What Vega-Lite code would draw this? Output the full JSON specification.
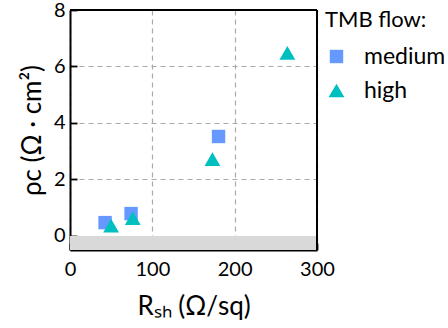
{
  "$schema": "https://vega.github.io/schema/vega-lite/v6.json",
  "width": 247,
  "height": 240,
  "autosize": {"type": "none"},
  "padding": {"left": 70, "top": 10, "right": 131, "bottom": 78},
  "background": "white",
  "config": {
    "view": {"stroke": null},
    "font": "Lato",
    "axis": {"labelFont": "Lato", "titleFont": "Lato", "labelColor": "black", "titleColor": "black", "titleFontWeight": "normal", "labelFlush": false}
  },
  "data": {"values": [
    {"Rsh": 42.6, "rho": 0.47, "flow": "medium"},
    {"Rsh": 74.2, "rho": 0.79, "flow": "medium"},
    {"Rsh": 180.4, "rho": 3.52, "flow": "medium"},
    {"Rsh": 49.9, "rho": 0.36, "flow": "high"},
    {"Rsh": 76.2, "rho": 0.63, "flow": "high"},
    {"Rsh": 173, "rho": 2.72, "flow": "high"},
    {"Rsh": 264, "rho": 6.48, "flow": "high"}
  ]},
  "layer": [
    {
      "mark": {"type": "rect", "color": "#d9d9d9"},
      "encoding": {
        "x": {"datum": 0, "type": "quantitative", "scale": {"domain": [0, 300]}, "axis": null},
        "x2": {"datum": 300},
        "y": {"datum": -0.5, "type": "quantitative", "scale": {"domain": [-0.5, 8]}, "axis": null},
        "y2": {"datum": 0}
      }
    },
    {
      "mark": {"type": "point", "filled": true, "opacity": 1},
      "encoding": {
        "x": {"field": "Rsh", "type": "quantitative", "scale": {"domain": [0, 300], "nice": false},
          "axis": {"orient": "bottom", "values": [0, 100, 200, 300], "tickSize": -7, "tickColor": "#000000", "tickWidth": 1.8, "domain": true, "domainColor": "#000000", "domainWidth": 2, "labelFontSize": 20, "labelPadding": 16, "title": "Rₛₕ (Ω/sq)", "titleFontSize": 26, "titlePadding": 14, "grid": true, "gridDash": [5, 4], "gridColor": "#aaaaaa", "gridWidth": 1.2}},
        "y": {"field": "rho", "type": "quantitative", "scale": {"domain": [-0.5, 8], "nice": false, "zero": false},
          "axis": {"orient": "left", "values": [0, 2, 4, 6, 8], "tickSize": -7, "tickColor": "#000000", "tickWidth": 1.8, "domain": true, "domainColor": "#000000", "domainWidth": 2, "labelFontSize": 20, "labelPadding": 12, "title": "ρc (Ω · cm²)", "titleFontSize": 26, "titlePadding": 8, "grid": true, "gridDash": [5, 4], "gridColor": "#aaaaaa", "gridWidth": 1.2}},
        "color": {"field": "flow", "type": "nominal", "scale": {"domain": ["medium", "high"], "range": ["#6699ff", "#00bfbf"]},
          "legend": {"title": "TMB flow:", "orient": "right", "offset": 8, "titleFontSize": 22, "titleFontWeight": "normal", "titleColor": "black", "labelFontSize": 23, "labelColor": "black", "labelOffset": 16, "rowPadding": 10, "titlePadding": 13}},
        "shape": {"field": "flow", "type": "nominal", "scale": {"domain": ["medium", "high"], "range": ["square", "triangle-up"]}},
        "size": {"field": "flow", "type": "nominal", "scale": {"domain": ["medium", "high"], "range": [180, 250]}}
      }
    },
    {
      "mark": {"type": "rule", "color": "#000000", "strokeWidth": 2},
      "encoding": {
        "x": {"datum": 300, "type": "quantitative", "axis": null},
        "y": {"datum": -0.5, "type": "quantitative", "axis": null},
        "y2": {"datum": 8}
      }
    },
    {
      "mark": {"type": "rule", "color": "#000000", "strokeWidth": 2},
      "encoding": {
        "y": {"datum": 8, "type": "quantitative", "axis": null},
        "x": {"datum": 0, "type": "quantitative", "axis": null},
        "x2": {"datum": 300}
      }
    }
  ],
  "resolve": {"axis": {"x": "independent", "y": "independent"}}
}
